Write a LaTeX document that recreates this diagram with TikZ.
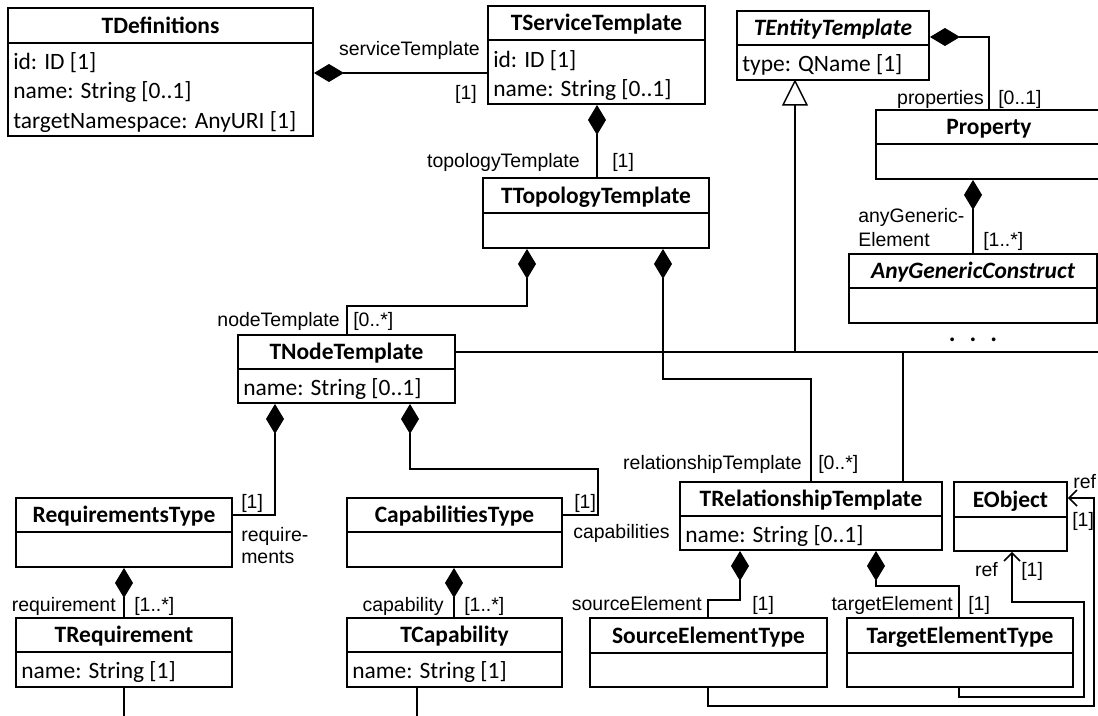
\documentclass[tikz,border=0pt]{standalone}
\usepackage{fontspec}
\setmainfont{Carlito}
\newfontfamily\rolefont{Liberation Sans}
\usetikzlibrary{arrows.meta,fit}

% one UML class: name, left, top, right, header rule y, bottom, title
\newcommand{\umlclass}[7]{%
  \node[classframe, fit={(#2,#3) (#4,#6)}] (#1) {};
  \draw[classrule] (#2,#5) -- (#4,#5);
  \node[titletext] (#1-title) at ({(#2+#4)/2},{(#3+#5)/2+7.5}) {#7};
}

\begin{document}
\begin{tikzpicture}[x=0.75pt,y=-0.75pt,
  classframe/.style={draw, line width=1.4pt, inner sep=0pt},
  classrule/.style={line width=1.4pt},
  titletext/.style={font=\fontsize{17.6}{20}\selectfont\bfseries, anchor=base, inner sep=0pt},
  attrtext/.style={font=\fontsize{17.6}{20}\selectfont, anchor=base west, inner sep=0pt},
  rolelabel/.style={font=\rolefont\fontsize{14.6}{17}\selectfont, inner sep=0pt},
  rolel/.style={rolelabel, anchor=base east},
  roler/.style={rolelabel, anchor=base west},
  conn/.style={line width=1.1pt},
  comp/.style={conn, {Diamond[length=22.5pt,width=13.5pt]}-},
  refarrow/.style={conn, -{Straight Barb[length=6pt,width=12pt]}},
  trunk/.style={line width=2pt},
]
\useasboundingbox (0,0) rectangle (1098,715);
\fill[white] (0,0) rectangle (1098,715);
\clip (0,0) rectangle (1098,715);

% classes
\umlclass{tdef}{8}{8}{313}{43}{136}{TDefinitions}
\umlclass{tserv}{488}{6}{705}{40}{104}{TServiceTemplate}
\umlclass{tent}{737}{11}{929}{45}{80}{\itshape TEntityTemplate}
\umlclass{prop}{876}{110}{1102}{144}{179}{Property}
\umlclass{anygen}{849}{254}{1097}{288}{323}{\itshape AnyGenericConstruct}
\umlclass{ttopo}{483}{178}{709}{213}{248}{TTopologyTemplate}
\umlclass{tnode}{238}{335}{455}{369}{403}{TNodeTemplate}
\umlclass{reqs}{16}{498}{232}{532}{567}{RequirementsType}
\umlclass{caps}{347}{498}{562}{532}{567}{CapabilitiesType}
\umlclass{trel}{680}{482}{942}{516}{550}{TRelationshipTemplate}
\umlclass{eobj}{954}{482}{1067}{517}{551}{EObject}
\umlclass{treq}{16}{618}{232}{652}{687}{TRequirement}
\umlclass{tcap}{347}{618}{562}{652}{687}{TCapability}
\umlclass{srcel}{590}{618}{827}{653}{687}{SourceElementType}
\umlclass{tgtel}{847}{618}{1073}{653}{687}{TargetElementType}

% attributes
\node[attrtext] (tdef-a1) at (13,69) {id: ID [1]};
\node[attrtext] (tdef-a2) at (13,98.5) {name: String [0..1]};
\node[attrtext] (tdef-a3) at (13,128) {targetNamespace: AnyURI [1]};
\node[attrtext] (tserv-a1) at (493,67) {id: ID [1]};
\node[attrtext] (tserv-a2) at (493,96) {name: String [0..1]};
\node[attrtext] (tent-a1) at (742,71) {type: QName [1]};
\node[attrtext] (tnode-a1) at (243,395) {name: String [0..1]};
\node[attrtext] (trel-a1) at (685,542) {name: String [0..1]};
\node[attrtext] (treq-a1) at (21,678) {name: String [1]};
\node[attrtext] (tcap-a1) at (352,678) {name: String [1]};
\node[font=\fontsize{19}{20}\selectfont\bfseries, anchor=base, inner sep=0pt] (more) at (973,341) {.\hspace{10.5pt}.\hspace{10.5pt}.};

% compositions
\draw[comp] (tdef.east |- 0,73) -- (tserv.west |- 0,73);
\draw[comp] (597,0 |- tserv.south) -- (597,0 |- ttopo.north);
\draw[comp] (tent.east |- 0,37) -- (989,37) -- (989,0 |- prop.north);
\draw[comp] (973,0 |- prop.south) -- (973,0 |- anygen.north);
\draw[comp] (527,0 |- ttopo.south) -- (527,306) -- (347,306) -- (347,0 |- tnode.north);
\draw[comp] (663,0 |- ttopo.south) -- (663,379) -- (811,379) -- (811,0 |- trel.north);
\draw[comp] (275,0 |- tnode.south) -- (275,515) -- (reqs.east |- 0,515);
\draw[comp] (410,0 |- tnode.south) -- (410,469) -- (598,469) -- (598,515) -- (caps.east |- 0,515);
\draw[comp] (124,0 |- reqs.south) -- (124,0 |- treq.north);
\draw[comp] (454,0 |- caps.south) -- (454,0 |- tcap.north);
\draw[comp] (740,0 |- trel.south) -- (740,600) -- (708,600) -- (708,0 |- srcel.north);
\draw[comp] (876,0 |- trel.south) -- (876,586) -- (959,586) -- (959,0 |- tgtel.north);

% generalization towards TEntityTemplate
\coordinate (gen-tip) at (795,0 |- tent.south);
\coordinate (gen-base) at (795,104);
\coordinate (gen-join) at (795,352);
\coordinate (gen-right) at (1100,352);
\draw[conn, fill=white, line join=miter] (gen-tip) -- ++(12,24) -- ++(-24,0) -- cycle;
\draw[trunk] (gen-base) -- (gen-join);
\draw[conn] (tnode.east |- gen-join) -- (gen-right);
\draw[conn] (903,352) -- (903,0 |- trel.north);

% lines leaving the lower edge
\coordinate (treq-out) at (124,716);
\coordinate (tcap-out) at (417,716);
\draw[conn] (124,0 |- treq.south) -- (treq-out);
\draw[conn] (417,0 |- tcap.south) -- (tcap-out);

% references to EObject
\draw[refarrow] (708,0 |- srcel.south) -- (708,706) -- (1094,706) -- (1094,498) -- (eobj.east |- 0,498);
\draw[refarrow] (959,0 |- tgtel.south) -- (959,697) -- (1084,697) -- (1084,602) -- (1012,602) -- (1012,0 |- eobj.south);

% role names and multiplicities
\node[rolel] (l-st) at (480,55) {serviceTemplate};
\node[rolel] (m-st) at (477,99) {[1]};
\node[rolel] (l-tt) at (580,167) {topologyTemplate};
\node[roler] (m-tt) at (612,167) {[1]};
\node[rolel] (l-pr) at (984,104) {properties};
\node[roler] (m-pr) at (998,104) {[0..1]};
\node[roler] (l-ag1) at (858,222) {anyGeneric-};
\node[roler] (l-ag2) at (858,246) {Element};
\node[roler] (m-ag) at (983,246) {[1..*]};
\node[rolel] (l-nt) at (340,326) {nodeTemplate};
\node[roler] (m-nt) at (353,326) {[0..*]};
\node[rolel] (l-rt) at (802,469) {relationshipTemplate};
\node[roler] (m-rt) at (818,469) {[0..*]};
\node[roler] (m-rq) at (241,508) {[1]};
\node[roler] (l-rq1) at (241,541) {require-};
\node[roler] (l-rq2) at (241,563) {ments};
\node[roler] (m-cp) at (574,508) {[1]};
\node[roler] (l-cp) at (573,538) {capabilities};
\node[rolel] (l-req) at (116,611) {requirement};
\node[roler] (m-req) at (134,611) {[1..*]};
\node[rolel] (l-cap) at (444,611) {capability};
\node[roler] (m-cap) at (464,611) {[1..*]};
\node[rolel] (l-se) at (702,610) {sourceElement};
\node[roler] (m-se) at (752,610) {[1]};
\node[rolel] (l-te) at (953,610) {targetElement};
\node[roler] (m-te) at (968,610) {[1]};
\node[roler] (l-ref1) at (1073,488) {ref};
\node[roler] (m-ref1) at (1072,526) {[1]};
\node[rolel] (l-ref2) at (998,576) {ref};
\node[roler] (m-ref2) at (1021,576) {[1]};
\end{tikzpicture}
\end{document}
